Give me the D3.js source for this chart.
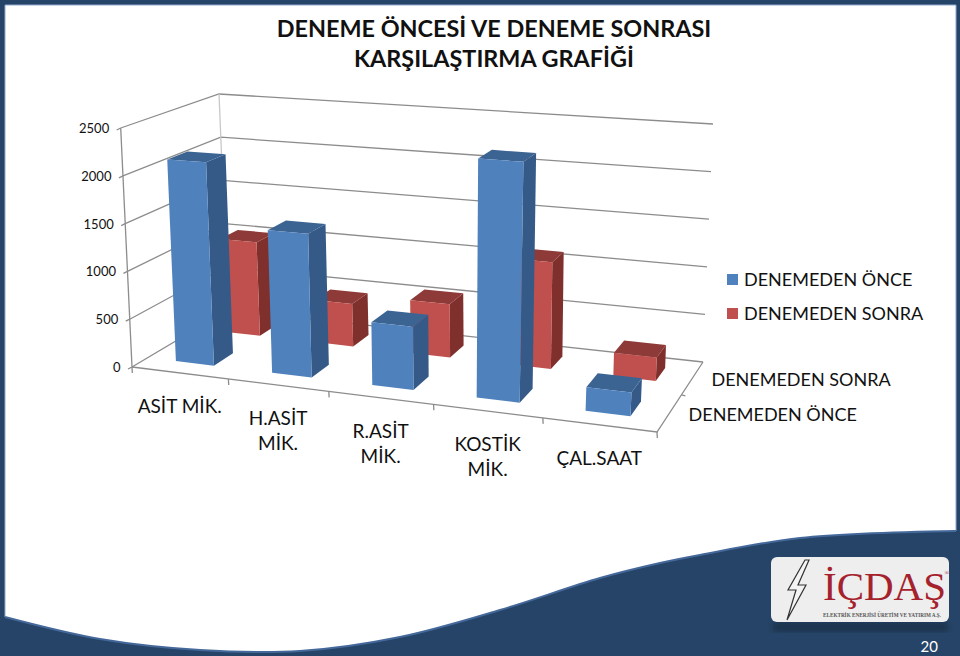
<!DOCTYPE html>
<html>
<head>
<meta charset="utf-8">
<script src="https://cdnjs.cloudflare.com/ajax/libs/d3/7.8.5/d3.min.js"></script>
<style>
html, body { margin: 0; padding: 0; background: #fff; }
svg { display: block; }
text { font-family: Lato, "Open Sans", sans-serif; fill: #111; }
</style>
</head>
<body>
<svg id="chart" width="960" height="656"></svg>
<script>
var categories = [["ASİT MİK."], ["H.ASİT", "MİK."], ["R.ASİT", "MİK."], ["KOSTİK", "MİK."], ["ÇAL.SAAT"]];
var seriesNames = ["DENEMEDEN ÖNCE", "DENEMEDEN SONRA"];
var once = [2130, 1475, 635, 2375, 230];
var sonra = [1030, 460, 565, 1110, 240];
var valueTicks = [0, 500, 1000, 1500, 2000, 2500];
var titleLines = ["DENEME ÖNCESİ VE DENEME SONRASI", "KARŞILAŞTIRMA GRAFİĞİ"];

var svg = d3.select("#chart");

// frame and the wave at the bottom
var navy = "#264467";
svg.append("rect").attr("width", 960).attr("height", 656).attr("fill", navy);
var waveLine = d3.line().curve(d3.curveCatmullRom);
var wave = [[5, 617], [100, 639], [200, 650], [300, 651], [400, 637], [500, 610], [600, 578], [660, 563], [700, 555], [800, 538], [956, 531]];
svg.append("path")
  .attr("d", "M5,5L956,5L956,531" + waveLine(wave.slice().reverse()).replace("M956,531", "") + "Z")
  .attr("fill", "#fff");
svg.append("path")
  .attr("d", "M5,5L956,5L956,531")
  .attr("fill", "none").attr("stroke", "#8fa9cf").attr("stroke-width", 1);
svg.append("path")
  .attr("d", "M5,5L5,617")
  .attr("fill", "none").attr("stroke", "#8fa9cf").attr("stroke-width", 1);
svg.append("path")
  .attr("d", waveLine(wave))
  .attr("fill", "none").attr("stroke", "#44689a").attr("stroke-width", 2);

// 3D box of the chart, the corners are pixels on the slide
var floorQuad = [[132, 367], [657, 432], [703, 362], [228, 310]];
var topQuad = [[120.7, 128], [671, 167], [713, 124], [219, 94]];

// unit square to quad (perspective)
function quadMap(q) {
  var x0 = q[0][0], y0 = q[0][1], x1 = q[1][0], y1 = q[1][1],
      x2 = q[2][0], y2 = q[2][1], x3 = q[3][0], y3 = q[3][1];
  var dx1 = x1 - x2, dx2 = x3 - x2, sx = x0 - x1 + x2 - x3,
      dy1 = y1 - y2, dy2 = y3 - y2, sy = y0 - y1 + y2 - y3;
  var det = dx1 * dy2 - dx2 * dy1;
  var g = (sx * dy2 - dx2 * sy) / det, h = (dx1 * sy - sx * dy1) / det;
  var a = x1 - x0 + g * x1, b = x3 - x0 + h * x3,
      d = y1 - y0 + g * y1, e = y3 - y0 + h * y3;
  return function(u, w) {
    var z = g * u + h * w + 1;
    return [(a * u + b * w + x0) / z, (d * u + e * w + y0) / z];
  };
}
var floorAt = quadMap(floorQuad), topAt = quadMap(topQuad);

var xScale = d3.scaleLinear().domain([0, categories.length]).range([0, 1]);
var zScale = d3.scaleLinear().domain([0, 2]).range([0, 1]);
var yScale = d3.scaleLinear().domain([0, 2500]).range([0, 1]);

// category position, series position, value
function project(c, s, v) {
  var a = floorAt(xScale(c), zScale(s)), b = topAt(xScale(c), zScale(s)), t = yScale(v);
  return [a[0] + (b[0] - a[0]) * t, a[1] + (b[1] - a[1]) * t];
}

var gridColor = "#8c8c8c";
var walls = svg.append("g").attr("fill", "none").attr("stroke", gridColor).attr("stroke-width", 1.3);
var line = d3.line();
valueTicks.forEach(function(v) {
  walls.append("path").attr("d", line([project(0, 0, v), project(0, 2, v), project(5, 2, v)]));
  var p = project(0, 0, v);
  walls.append("path").attr("d", line([p, [p[0] - 4, p[1] + 2]]));
});
walls.append("path").attr("d", line([project(0, 0, 0), project(0, 0, 2500)]));
walls.append("path").attr("d", line([project(0, 2, 0), project(0, 2, 2500)])).attr("stroke", "#c8c8c8");
walls.append("path").attr("d", line([project(0, 0, 0), project(5, 0, 0), project(5, 2, 0)]));
d3.range(0, 6).forEach(function(c) {
  var p = project(c, 0, 0);
  walls.append("path").attr("d", line([p, [p[0] + 0.3, p[1] + 6]]));
});
var sideTick = project(5, 1, 0);
walls.append("path").attr("d", line([sideTick, [sideTick[0] + 4, sideTick[1] + 1]]));

// bars: gap width 150%, so bar is .4 of the slot in both directions
var barGap = 0.3;
var barDepth = 0.3;
var seriesList = [
  { s: 1, values: sonra, front: "#c0504d", side: "#7f2f2c", top: "#8e3a38" },
  { s: 0, values: once, front: "#4f81bd", side: "#355a88", top: "#3b6493" }
];

var barGroup = svg.append("g");
seriesList.forEach(function(sr) {
  var g = barGroup.append("g");
  sr.values.forEach(function(v, i) {
    var x0 = i + barGap, x1 = i + 1 - barGap;
    var z0 = sr.s + barDepth, z1 = sr.s + 1 - barDepth;
    var faces = [
      { c: sr.side, p: [[x1, z0, 0], [x1, z1, 0], [x1, z1, v], [x1, z0, v]] },
      { c: sr.top, p: [[x0, z0, v], [x1, z0, v], [x1, z1, v], [x0, z1, v]] },
      { c: sr.front, p: [[x0, z0, 0], [x1, z0, 0], [x1, z0, v], [x0, z0, v]] }
    ];
    g.selectAll(null).data(faces).enter().append("path")
      .attr("fill", function(f) { return f.c; })
      .attr("d", function(f) { return line(f.p.map(function(a) { return project(a[0], a[1], a[2]); })) + "Z"; });
  });
});

// value labels
svg.append("g").selectAll("text").data(valueTicks).enter().append("text")
  .attr("x", function(v) { return project(0, 0, v)[0] - 11.5; })
  .attr("y", function(v) { return project(0, 0, v)[1] + 5; })
  .attr("text-anchor", "end").attr("font-size", 13)
  .text(function(v) { return v; });

// category labels
categories.forEach(function(lines, i) {
  var p = project(i + 0.5, 0, 0);
  lines.forEach(function(t, k) {
    svg.append("text").attr("x", p[0]).attr("y", p[1] + 40 + k * 25)
      .attr("text-anchor", "middle").attr("font-size", 19).text(t);
  });
});

// series labels on the depth axis
seriesNames.forEach(function(t, i) {
  var p = project(5, i + 0.5, 0);
  svg.append("text").attr("x", p[0] + 19).attr("y", p[1] + 8)
    .attr("font-size", 18).text(t);
});

// legend
var legendY = d3.scalePoint().domain(seriesNames).range([280, 314]);
var legendColor = d3.scaleOrdinal().domain(seriesNames).range(["#4f81bd", "#c0504d"]);
seriesNames.forEach(function(t) {
  svg.append("rect").attr("x", 727).attr("y", legendY(t) - 6).attr("width", 11).attr("height", 11).attr("fill", legendColor(t));
  svg.append("text").attr("x", 744).attr("y", legendY(t) + 6).attr("font-size", 18).text(t);
});

// title
titleLines.forEach(function(t, i) {
  svg.append("text").attr("x", 494).attr("y", 37 + i * 30).attr("text-anchor", "middle")
    .attr("font-size", 23.4).attr("font-weight", 700).text(t);
});

// logo
var defs = svg.append("defs");
defs.append("filter").attr("id", "blur").append("feGaussianBlur").attr("stdDeviation", 2);
svg.append("rect").attr("x", 773).attr("y", 622).attr("width", 175).attr("height", 10)
  .attr("fill", "#1d3450").attr("filter", "url(#blur)");
svg.append("rect").attr("x", 771).attr("y", 557).attr("width", 178).attr("height", 65).attr("rx", 6)
  .attr("fill", "#eeeeee");
svg.append("path").attr("d", "M805,560L788,590L796,590L787,620L806,585L798,585L809,560Z")
  .attr("fill", "#f4f4f4").attr("stroke", "#333").attr("stroke-width", 1.2);
svg.append("text").attr("x", 823).attr("y", 600).attr("font-size", 41)
  .style("font-family", "'Liberation Serif', serif").style("fill", "#a5222d").text("İÇDAŞ");
svg.append("text").attr("x", 944.5).attr("y", 575).attr("font-size", 6)
  .style("font-family", "'Liberation Serif', serif").style("fill", "#a5222d").text("®");
svg.append("text").attr("x", 823).attr("y", 617).attr("font-size", 5.2).attr("font-weight", 700)
  .style("font-family", "'Liberation Serif', serif").style("fill", "#555").text("ELEKTRİK ENERJİSİ ÜRETİM VE YATIRIM A.Ş.");
svg.append("text").attr("x", 938).attr("y", 652).attr("text-anchor", "end").attr("font-size", 15)
  .style("fill", "#fff").text("20");
</script>
</body>
</html>
